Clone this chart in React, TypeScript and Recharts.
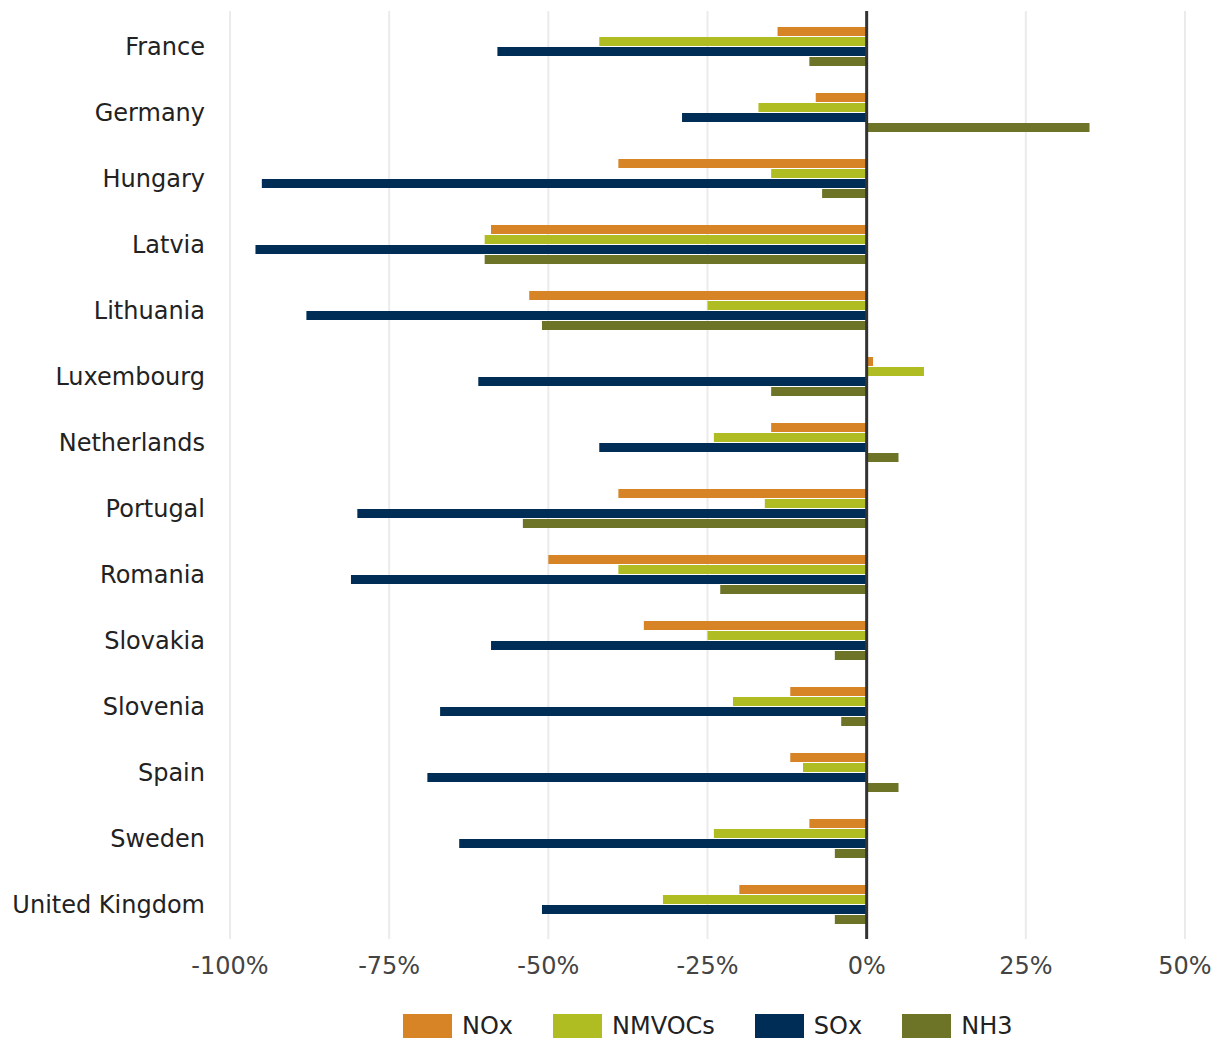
import React from "react";
import { BarChart, Bar, XAxis, YAxis, CartesianGrid, ReferenceLine } from "recharts";

const countries = ["France", "Germany", "Hungary", "Latvia", "Lithuania", "Luxembourg", "Netherlands", "Portugal", "Romania", "Slovakia", "Slovenia", "Spain", "Sweden", "United Kingdom"];
const nox = [-14, -8, -39, -59, -53, 1, -15, -39, -50, -35, -12, -12, -9, -20];
const nmvocs = [-42, -17, -15, -60, -25, 9, -24, -16, -39, -25, -21, -10, -24, -32];
const sox = [-58, -29, -95, -96, -88, -61, -42, -80, -81, -59, -67, -69, -64, -51];
const nh3 = [-9, 35, -7, -60, -51, -15, 5, -54, -23, -5, -4, 5, -5, -5];
const xTicks = [-100, -75, -50, -25, 0, 25, 50];

const seriesNames = ["NOx", "NMVOCs", "SOx", "NH3"];
const seriesColors = ["#D68426", "#B0BD22", "#002D55", "#6D7428"];

const data = countries.map((c, i) => ({
  country: c,
  NOx: nox[i],
  NMVOCs: nmvocs[i],
  SOx: sox[i],
  NH3: nh3[i],
}));

const FONT = "'DejaVu Sans', Verdana, sans-serif";

export default function App() {
  return (
    <div style={{ position: "absolute", left: 0, top: 0, width: 1226, height: 1041, background: "#fff", fontFamily: FONT }}>
      <BarChart
        width={1226}
        height={1041}
        data={data}
        layout="vertical"
        margin={{ top: 11, right: 41, bottom: 0, left: 0 }}
        barSize={9}
        barGap={1}
      >
        <CartesianGrid horizontal={false} vertical={true} stroke="#EBEBEB" strokeWidth={2} />
        <XAxis
          type="number"
          domain={[-100, 50]}
          ticks={xTicks}
          tickFormatter={(v) => `${v}%`}
          axisLine={false}
          tickLine={false}
          tickSize={0}
          tickMargin={18}
          height={102}
          interval={0}
          tick={{ fontSize: 24, fill: "#444", fontFamily: FONT }}
        />
        <YAxis
          type="category"
          dataKey="country"
          width={230}
          axisLine={false}
          tickLine={false}
          tickSize={0}
          tickMargin={25}
          interval={0}
          padding={{ top: 2, bottom: 2 }}
          tick={{ fontSize: 24, fill: "#222", fontFamily: FONT }}
        />
        {seriesNames.map((s, i) => (
          <Bar key={s} dataKey={s} fill={seriesColors[i]} isAnimationActive={false} />
        ))}
        <ReferenceLine x={0} stroke="#333" strokeWidth={3} ifOverflow="extendDomain" />
      </BarChart>
      <div style={{ position: "absolute", top: 1014, left: 403, display: "flex", alignItems: "center", fontSize: 24, color: "#222", fontFamily: FONT }}>
        {seriesNames.map((s, i) => (
          <div key={s} style={{ display: "flex", alignItems: "center", marginRight: 40 }}>
            <div style={{ width: 49, height: 24, background: seriesColors[i], marginRight: 10 }} />
            <span style={{ lineHeight: "24px" }}>{s}</span>
          </div>
        ))}
      </div>
    </div>
  );
}
